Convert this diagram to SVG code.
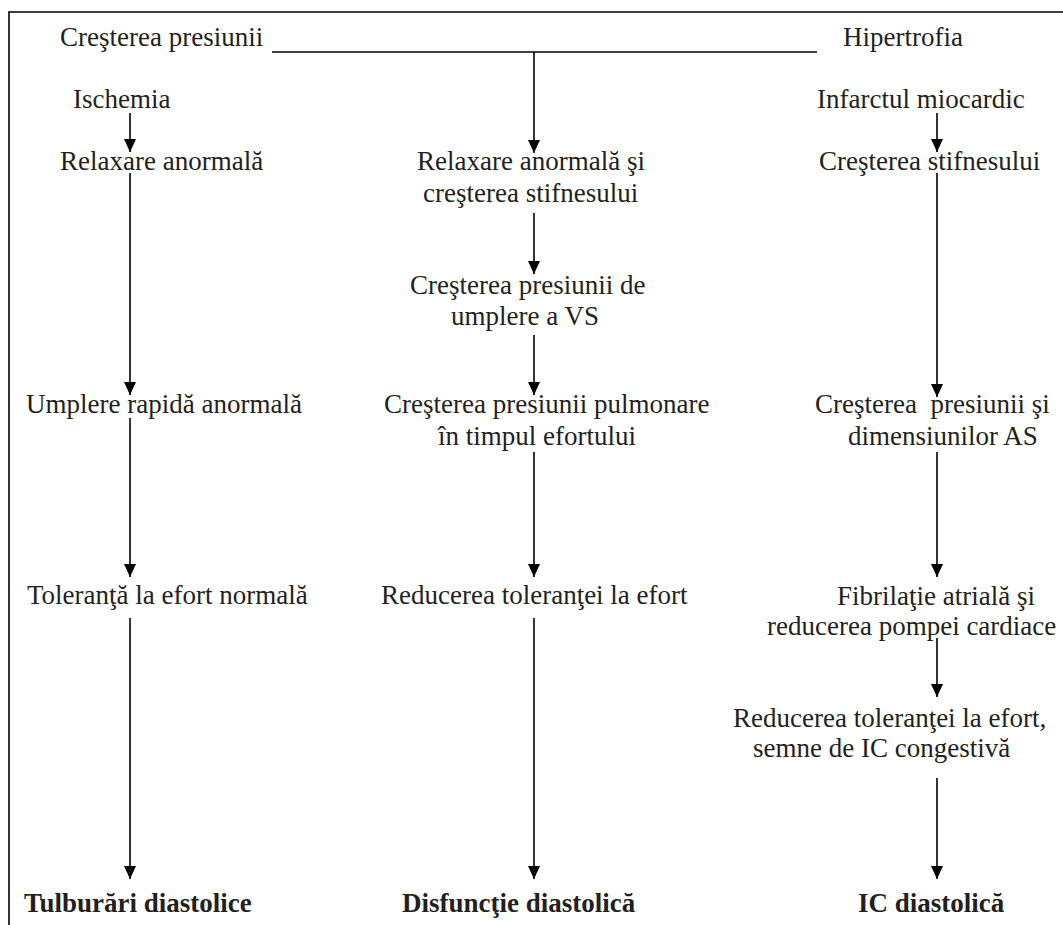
<svg xmlns="http://www.w3.org/2000/svg" width="1063" height="925" viewBox="0 0 1063 925">
<style>
text{font-family:"Liberation Serif","Times New Roman",serif;font-size:27px;fill:#231f20}
.b{font-weight:bold}
.c line,.c path.l{stroke:#000;stroke-width:1.6;fill:none}
.frame{stroke:#000;stroke-width:1.6;fill:none}
</style>
<defs>
<marker id="ah" markerUnits="userSpaceOnUse" viewBox="0 0 13 12" markerWidth="13" markerHeight="12" refX="13" refY="6" orient="auto">
<path d="M0,0 L13,6 L0,12 z" fill="#000"/>
</marker>
</defs>
<rect width="1063" height="925" fill="#fff"/>
<path class="frame" d="M9,925 V12 H1063"/>

<g id="n-crestere-presiune"><text x="60" y="46">Creşterea presiunii</text></g>
<g id="n-hipertrofia"><text x="843" y="46">Hipertrofia</text></g>
<g id="n-ischemia"><text x="73" y="108">Ischemia</text></g>
<g id="n-infarct"><text x="817" y="108">Infarctul miocardic</text></g>
<g id="n-relax-l"><text x="60" y="170">Relaxare anormală</text></g>
<g id="n-relax-m"><text x="417" y="170">Relaxare anormală şi</text><text x="423" y="202">creşterea stifnesului</text></g>
<g id="n-stif-r"><text x="819" y="170">Creşterea stifnesului</text></g>
<g id="n-umplere-vs"><text x="410" y="294">Creşterea presiunii de</text><text x="451" y="325">umplere a VS</text></g>
<g id="n-umplere-rapida"><text x="26" y="413">Umplere rapidă anormală</text></g>
<g id="n-pres-pulm"><text x="384" y="413">Creşterea presiunii pulmonare</text><text x="438" y="445">în timpul efortului</text></g>
<g id="n-pres-as"><text x="815" y="413" style="white-space:pre">Creşterea  presiunii şi</text><text x="848" y="445">dimensiunilor AS</text></g>
<g id="n-tol-normala"><text x="27" y="604">Toleranţă la efort normală</text></g>
<g id="n-red-tol"><text x="381" y="604">Reducerea toleranţei la efort</text></g>
<g id="n-fibrilatie"><text x="837" y="605">Fibrilaţie atrială şi</text><text x="767" y="635">reducerea pompei cardiace</text></g>
<g id="n-red-tol-ic"><text x="733" y="727">Reducerea toleranţei la efort,</text><text x="753" y="757">semne de IC congestivă</text></g>
<g id="n-tulburari"><text class="b" x="24" y="912">Tulburări diastolice</text></g>
<g id="n-disfunctie"><text class="b" x="402" y="912">Disfuncţie diastolică</text></g>
<g id="n-ic"><text class="b" x="858" y="912">IC diastolică</text></g>

<g id="connectors" class="c">
<line x1="272" y1="52" x2="817" y2="52"/>
<line x1="534" y1="52" x2="534" y2="153" marker-end="url(#ah)"/>
<line x1="130" y1="113" x2="130" y2="152" marker-end="url(#ah)"/>
<line x1="937" y1="113" x2="937" y2="152" marker-end="url(#ah)"/>
<line x1="130" y1="173" x2="130" y2="395" marker-end="url(#ah)"/>
<line x1="937" y1="173" x2="937" y2="397" marker-end="url(#ah)"/>
<line x1="534" y1="213" x2="534" y2="274" marker-end="url(#ah)"/>
<line x1="534" y1="335" x2="534" y2="395" marker-end="url(#ah)"/>
<line x1="130" y1="418" x2="130" y2="577" marker-end="url(#ah)"/>
<line x1="534" y1="452" x2="534" y2="577" marker-end="url(#ah)"/>
<line x1="937" y1="452" x2="937" y2="577" marker-end="url(#ah)"/>
<line x1="130" y1="618" x2="130" y2="879" marker-end="url(#ah)"/>
<line x1="534" y1="618" x2="534" y2="879" marker-end="url(#ah)"/>
<line x1="937" y1="638" x2="937" y2="697" marker-end="url(#ah)"/>
<line x1="937" y1="778" x2="937" y2="879" marker-end="url(#ah)"/>
</g>
</svg>
